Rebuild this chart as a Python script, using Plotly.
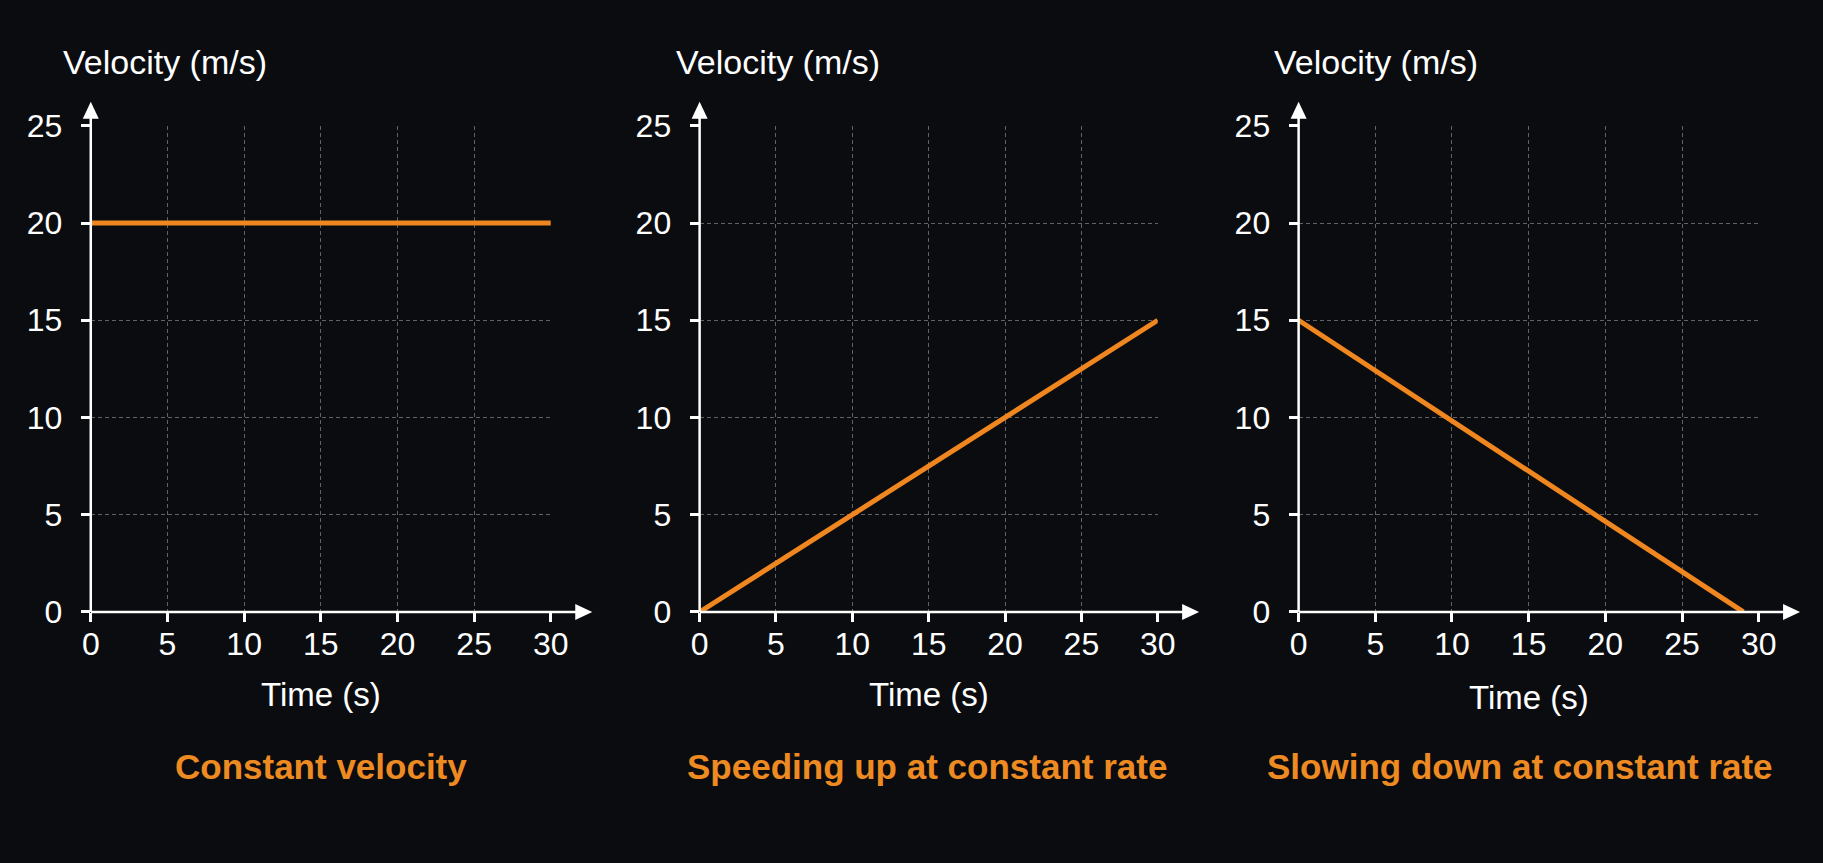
import plotly.graph_objects as go

# ---------------- data ----------------
time_constant = [0, 30]
velocity_constant = [20, 20]

time_speeding = [0, 30]
velocity_speeding = [0, 15]

time_slowing = [0, 29]
velocity_slowing = [15, 0]

x_ticks = [0, 5, 10, 15, 20, 25, 30]
y_ticks = [0, 5, 10, 15, 20, 25]

panel_titles = ["Constant velocity", "Speeding up at constant rate", "Slowing down at constant rate"]
x_title = "Time (s)"
y_title = "Velocity (m/s)"

# ---------------- layout constants ----------------
W, H = 1823, 863
BG = "#0a0c0f"
ORANGE = "#f0861f"
TEXT_ORANGE = "#ee8a22"
WHITE = "#ffffff"
GRID = "#606264"
FONT = "Liberation Sans, Arial, sans-serif"

panel_px = [(83, 550), (701, 1166), (1309, 1776)]   # left/right of plot area in px
y_px = (619.8, 112.5)                               # bottom/top of plot area in px
arrow_x_tip_px = [592, 1208, 1818]
arrow_y_tip_px = 87.5
time_title_y_px = [705.5, 705.5, 709]
subtitle_y_px = 781.5
subtitle_dx = [0, -2, -9]
velocity_title_y_px = 46
velocity_title_dx = [-30, -26, -27]

series = [
    (time_constant, velocity_constant),
    (time_speeding, velocity_speeding),
    (time_slowing, velocity_slowing),
]

fig = go.Figure()
ydom = [1 - y_px[0] / H, 1 - y_px[1] / H]

shapes = []
annotations = []
for i, ((x0p, x1p), (tx, vy)) in enumerate(zip(panel_px, series)):
    n = "" if i == 0 else str(i + 1)
    xa, ya = "x" + n, "y" + n
    fig.add_trace(go.Scatter(x=tx, y=vy, mode="lines",
                             line=dict(color=ORANGE, width=5),
                             xaxis=xa, yaxis=ya, showlegend=False,
                             hoverinfo="skip"))
    common = dict(showgrid=True, gridcolor=GRID, gridwidth=1, griddash="4px,3px",
                  zeroline=False, showline=False, ticks="outside", ticklen=9,
                  tickwidth=2.5, tickcolor=WHITE,
                  tickfont=dict(family=FONT, size=32, color=WHITE),
                  fixedrange=True)
    fig.update_layout(**{
        "xaxis" + n: dict(domain=[x0p / W, x1p / W], range=[0, 30], tickvals=x_ticks,
                          anchor=ya, ticklabelstandoff=-5, **common),
        "yaxis" + n: dict(domain=ydom, range=[0, 25], tickvals=y_ticks,
                          anchor=xa, ticklabelstandoff=12, **common),
    })
    width_px = x1p - x0p
    height_px = y_px[0] - y_px[1]
    xr, yr = xa + " domain", ya + " domain"
    x_tip = (arrow_x_tip_px[i] - x0p) / width_px
    y_tip = (y_px[0] - arrow_y_tip_px) / height_px
    # axis lines
    shapes.append(dict(type="line", xref=xr, yref=yr, x0=0, x1=x_tip - 10 / width_px,
                       y0=0, y1=0, line=dict(color=WHITE, width=2.5), layer="above"))
    shapes.append(dict(type="line", xref=xr, yref=yr, x0=0, x1=0,
                       y0=0, y1=y_tip - 10 / height_px, line=dict(color=WHITE, width=2.5),
                       layer="above"))
    # arrow heads (pixel-sized triangles)
    shapes.append(dict(type="path", xref=xr, yref=yr, xsizemode="pixel", ysizemode="pixel",
                       xanchor=x_tip, yanchor=0,
                       path="M 0,0 L -17,8 L -17,-8 Z",
                       fillcolor=WHITE, line=dict(width=0), layer="above"))
    shapes.append(dict(type="path", xref=xr, yref=yr, xsizemode="pixel", ysizemode="pixel",
                       xanchor=0, yanchor=y_tip,
                       path="M 0,0 L -8,-17 L 8,-17 Z",
                       fillcolor=WHITE, line=dict(width=0), layer="above"))
    # texts
    annotations.append(dict(text=y_title, xref="paper", yref="paper",
                            x=(x0p + velocity_title_dx[i]) / W, y=1 - velocity_title_y_px / H,
                            xanchor="left", yanchor="middle",
                            showarrow=False, font=dict(family=FONT, size=34, color=WHITE)))
    annotations.append(dict(text=x_title, xref="paper", yref="paper",
                            x=(x0p + x1p) / 2 / W, y=1 - time_title_y_px[i] / H,
                            xanchor="center", yanchor="middle",
                            showarrow=False, font=dict(family=FONT, size=33, color=WHITE)))
    annotations.append(dict(text="<b>" + panel_titles[i] + "</b>", xref="paper", yref="paper",
                            x=((x0p + x1p) / 2 + subtitle_dx[i]) / W, y=1 - subtitle_y_px / H,
                            xanchor="center", yanchor="middle",
                            showarrow=False, font=dict(family=FONT, size=35, color=TEXT_ORANGE)))

fig.update_layout(width=W, height=H, margin=dict(l=0, r=0, t=0, b=0),
                  paper_bgcolor=BG, plot_bgcolor=BG, shapes=shapes,
                  annotations=annotations, showlegend=False)

fig.write_html("out.html", config={"displayModeBar": False})
